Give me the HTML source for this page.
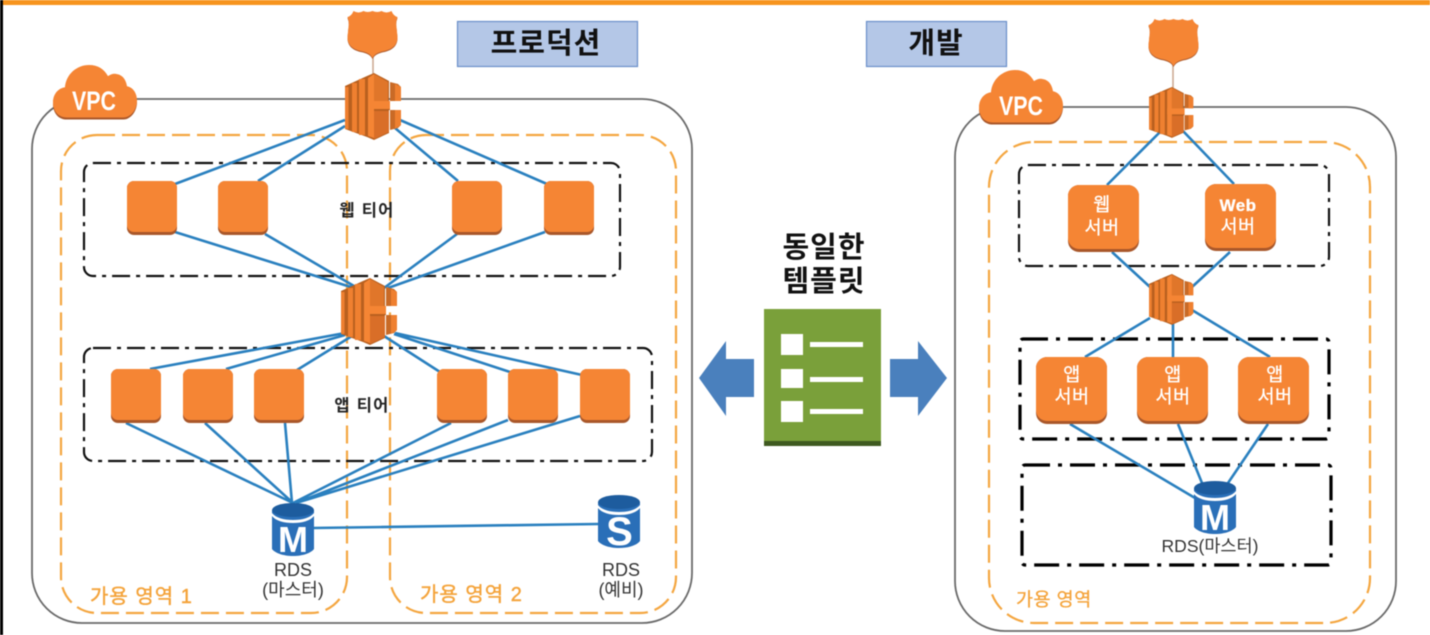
<!DOCTYPE html>
<html lang="ko">
<head>
<meta charset="utf-8">
<title>프로덕션 / 개발 VPC</title>
<style>
html,body{margin:0;padding:0;background:#fff;width:1430px;height:635px;overflow:hidden}
svg{display:block;filter:blur(.55px)}
text{font-family:"Liberation Sans","Noto Sans CJK KR",sans-serif}
.vpc{fill:none;stroke:#6a6a6a;stroke-width:1.8}
.az{fill:none;stroke:#f4a640;stroke-width:2.2;stroke-dasharray:18 7}
.tier{fill:none;stroke:#111;stroke-width:2.2;stroke-dasharray:18 6 4 6}
.tier2{fill:none;stroke:#000;stroke-width:3.2;stroke-dasharray:25 8 4 8}
.ln{fill:none;stroke:#2a80bf;stroke-width:2.6}
.azt{fill:#f4a33a;stroke:#f4a33a;stroke-width:.4;font-size:20px;letter-spacing:1px}
.lbl{fill:#333;font-size:18px;text-anchor:middle}
.tl{fill:#222;font-size:16.500px;font-weight:700;text-anchor:middle;letter-spacing:1.300px}
.sv{fill:#fff;font-size:18.500px;stroke:#fff;stroke-width:.3;text-anchor:middle;letter-spacing:.5px}
.h{fill:#111;font-size:29px;font-weight:700;text-anchor:middle;letter-spacing:1px}
</style>
</head>
<body>
<svg width="1430" height="635" viewBox="0 0 1430 635" xmlns="http://www.w3.org/2000/svg">
<defs>
  <g id="sq">
    <rect x="0" y="0" width="50" height="54" rx="7" fill="#a9572a"/>
    <rect x="0" y="0" width="50" height="51" rx="7" fill="#f58534"/>
  </g>
  <g id="sq2">
    <rect x="0" y="0" width="71" height="67" rx="11" fill="#a9572a"/>
    <rect x="0" y="0" width="71" height="64" rx="11" fill="#f58534"/>
  </g>
  <g id="elb">
    <path d="M0 13L22 3L29 0L44 8V28H45V37H44V60L29 67L22 64L0 56Z" fill="#b9601f"/>
    <rect x="0" y="14" width="3.500" height="42" fill="#ef8030"/>
    <rect x="7" y="10" width="5" height="49" fill="#ef8030"/>
    <rect x="14" y="6" width="6" height="56" fill="#ef8030"/>
    <path d="M23 5L29 1V65L23 63Z" fill="#f58534"/>
    <path d="M29 1L43 9V28H29Z" fill="#e0762a"/>
    <path d="M23 28H45V36H23Z" fill="#f58534"/>
    <path d="M29 38H44V59L29 66Z" fill="#d96e28"/>
    <path d="M45 9L53 11L56 14V28H45Z" fill="#c96a26"/>
    <path d="M50 11L56 14V28H50Z" fill="#ef8030"/>
    <path d="M45 37H56V52L53 55L45 57Z" fill="#c96a26"/>
    <path d="M50 37H56V52L50 56Z" fill="#ef8030"/>
  </g>
  <path id="shield" d="M1 7Q5 6 7 1Q12 4 17 1Q21 3 26 1Q31 3 35 1Q40 4 45 1Q47 6 51 7Q49 12 50 17L51 27C51 35 46 39 38 41C32 42 28 44 26 48C24 44 20 42 14 41C6 39 1 35 1 27L2 17Q3 12 1 7Z"/>
  <path id="cloud" d="M14 52C4 52 0 44 0 37c0-8 5-14 12-15 1-13 12-22 24-22 9 0 15 4 19 11 3-2 6-3 9-2 6 1 9 6 10 12 6 1 10 7 10 14 0 9-6 17-14 17z"/>
  <g id="dbM">
    <path d="M0 7v39c3 4 11 7 21 7s18-3 21-7V7z" fill="#2a6fb8"/>
    <ellipse cx="21" cy="7" rx="21" ry="7" fill="#1d5c9e"/>
    <path d="M0 10c4 5 12 7 21 7s17-2 21-7v3c-4 5-12 7-21 7S4 18 0 13z" fill="#fff"/>
  </g>
</defs>

<rect x="0" y="0" width="1430" height="5" fill="#f7941e"/>
<rect x="0" y="0" width="3" height="635" fill="#000"/>

<!-- LEFT -->
<rect class="vpc" x="32" y="99" width="660" height="524" rx="50"/>
<rect class="az" x="61" y="135" width="286" height="478" rx="36"/>
<rect class="az" x="390" y="135" width="286" height="478" rx="36"/>
<rect class="tier" x="84" y="163" width="536" height="113" rx="9"/>
<rect class="tier" x="84" y="348" width="568" height="113" rx="9"/>

<g class="ln">
  <path d="M345 120L175 184M345 126L258 181M400 120L547 184M395 128L458 181"/>
  <path d="M175 232L354 288M265 234L354 286M457 234L384 288M545 232L388 288"/>
  <path d="M345 333L150 369M345 335L226 369M352 336L297 370M384 336L440 372M394 334L510 372M395 333L582 375"/>
  <path d="M126 423L293 503M205 423L293 503M285 423L292 503M451 423L293 503M508 420L296 503M580 416L296 503"/>
  <path d="M313 528L598 524"/>
</g>
<path d="M373 56V75" stroke="#c9a58c" stroke-width="1.500" fill="none"/>

<use href="#shield" x="346.500" y="11" fill="#a9572a"/>
<use href="#shield" x="346.500" y="10" fill="#f58534"/>
<use href="#elb" x="345" y="73"/>
<use href="#elb" x="341" y="278"/>
<use href="#cloud" transform="translate(53 66) scale(1 1.03)" fill="#a9572a"/>
<use href="#cloud" transform="translate(53 65) scale(1 1.01)" fill="#f58534"/>
<text x="94" y="110" fill="#fff" font-size="27" font-weight="700" text-anchor="middle" textLength="44" lengthAdjust="spacingAndGlyphs">VPC</text>

<use href="#sq" x="127" y="181"/><use href="#sq" x="218" y="181"/>
<use href="#sq" x="452" y="181"/><use href="#sq" x="544" y="181"/>
<use href="#sq" x="111" y="369"/><use href="#sq" x="183" y="369"/><use href="#sq" x="254" y="369"/>
<use href="#sq" x="437" y="369"/><use href="#sq" x="508" y="369"/><use href="#sq" x="580" y="369"/>

<text class="tl" x="367" y="216">웹 티어</text>
<text class="tl" x="362" y="411">앱 티어</text>

<use href="#dbM" x="272" y="503"/>
<text x="293" y="552" fill="#fff" font-size="36" font-weight="700" text-anchor="middle">M</text>
<use href="#dbM" x="598" y="495"/>
<text x="619.500" y="545" fill="#fff" font-size="40" font-weight="700" text-anchor="middle">S</text>

<text class="lbl" x="293" y="576">RDS</text>
<text class="lbl" x="293" y="596">(마스터)</text>
<text class="lbl" x="621" y="576">RDS</text>
<text class="lbl" x="621" y="596">(예비)</text>
<text class="azt" x="90" y="603">가용 영역 1</text>
<text class="azt" x="420" y="601">가용 영역 2</text>

<!-- TITLES -->
<rect x="457.500" y="21.500" width="180" height="45" fill="#b4c7e7" stroke="#6a8fc9" stroke-width="1.200"/>
<text class="h" x="546" y="53">프로덕션</text>
<rect x="866.500" y="21.500" width="140" height="45" fill="#b4c7e7" stroke="#6a8fc9" stroke-width="1.200"/>
<text class="h" x="936" y="53">개발</text>

<!-- CENTER -->
<text class="h" x="824" y="257">동일한</text>
<text class="h" x="824" y="291">템플릿</text>
<rect x="764" y="309" width="117" height="137" fill="#7aa03a"/>
<rect x="764" y="441" width="117" height="5" fill="#3f5a20"/>
<g fill="#fff">
  <rect x="781" y="334" width="22" height="21"/>
  <rect x="781" y="369" width="22" height="19"/>
  <rect x="781" y="401" width="22" height="21"/>
  <rect x="810" y="342" width="53" height="5"/>
  <rect x="810" y="377" width="53" height="5"/>
  <rect x="810" y="409" width="53" height="5"/>
</g>
<path d="M699 378L726 341V359H754V397H726V416Z" fill="#4a80bd"/>
<path d="M947 378L918 341V359H890V397H918V416Z" fill="#4a80bd"/>

<!-- RIGHT -->
<rect class="vpc" x="955" y="107" width="441" height="524" rx="50"/>
<rect class="az" x="989" y="142" width="381" height="481" rx="45"/>
<rect class="tier" x="1019" y="165" width="310" height="101" rx="9"/>
<rect class="tier2" x="1020" y="339" width="309" height="100" rx="3"/>
<rect class="tier2" x="1022" y="465" width="309" height="100" rx="3"/>

<g class="ln">
  <path d="M1160 132L1107 185M1183 131L1234 184"/>
  <path d="M1112 252L1150 287M1230 252L1192 287"/>
  <path d="M1150 318L1085 357M1173 322V357M1192 310L1270 357"/>
  <path d="M1070 424L1195 498M1178 424L1202 483M1268 424L1228 483"/>
</g>
<path d="M1173 64V88" stroke="#c9a58c" stroke-width="1.500" fill="none"/>

<use href="#shield" x="1147.500" y="19" fill="#a9572a"/>
<use href="#shield" x="1147.500" y="18" fill="#f58534"/>
<use href="#elb" transform="translate(1149 87) scale(.79 .76)"/>
<use href="#elb" transform="translate(1149 274) scale(.79 .76)"/>
<use href="#cloud" transform="translate(979 71) scale(1 1.03)" fill="#a9572a"/>
<use href="#cloud" transform="translate(979 70) scale(1 1.01)" fill="#f58534"/>
<text x="1021" y="115" fill="#fff" font-size="27" font-weight="700" text-anchor="middle" textLength="44" lengthAdjust="spacingAndGlyphs">VPC</text>

<use href="#sq2" x="1068" y="185"/><use href="#sq2" x="1205" y="184"/>
<use href="#sq2" x="1036" y="357"/><use href="#sq2" x="1137" y="357"/><use href="#sq2" x="1238" y="357"/>

<text class="sv" x="1102" y="211">웹</text><text class="sv" x="1102" y="234">서버</text>
<text class="sv" x="1238" y="211" font-weight="700" style="font-size:17px">Web</text><text class="sv" x="1238" y="233">서버</text>
<text class="sv" x="1072" y="381">앱</text><text class="sv" x="1072" y="403">서버</text>
<text class="sv" x="1173" y="381">앱</text><text class="sv" x="1173" y="403">서버</text>
<text class="sv" x="1275" y="381">앱</text><text class="sv" x="1275" y="403">서버</text>

<use href="#dbM" x="1194" y="481"/>
<text x="1215" y="530" fill="#fff" font-size="36" font-weight="700" text-anchor="middle">M</text>
<text class="lbl" x="1210" y="552" style="font-size:17.500px">RDS(마스터)</text>
<text x="1016" y="606" fill="#f4a33a" font-size="18.500" stroke="#f4a33a" stroke-width=".3" letter-spacing=".5">가용 영역</text>
</svg>
</body>
</html>
